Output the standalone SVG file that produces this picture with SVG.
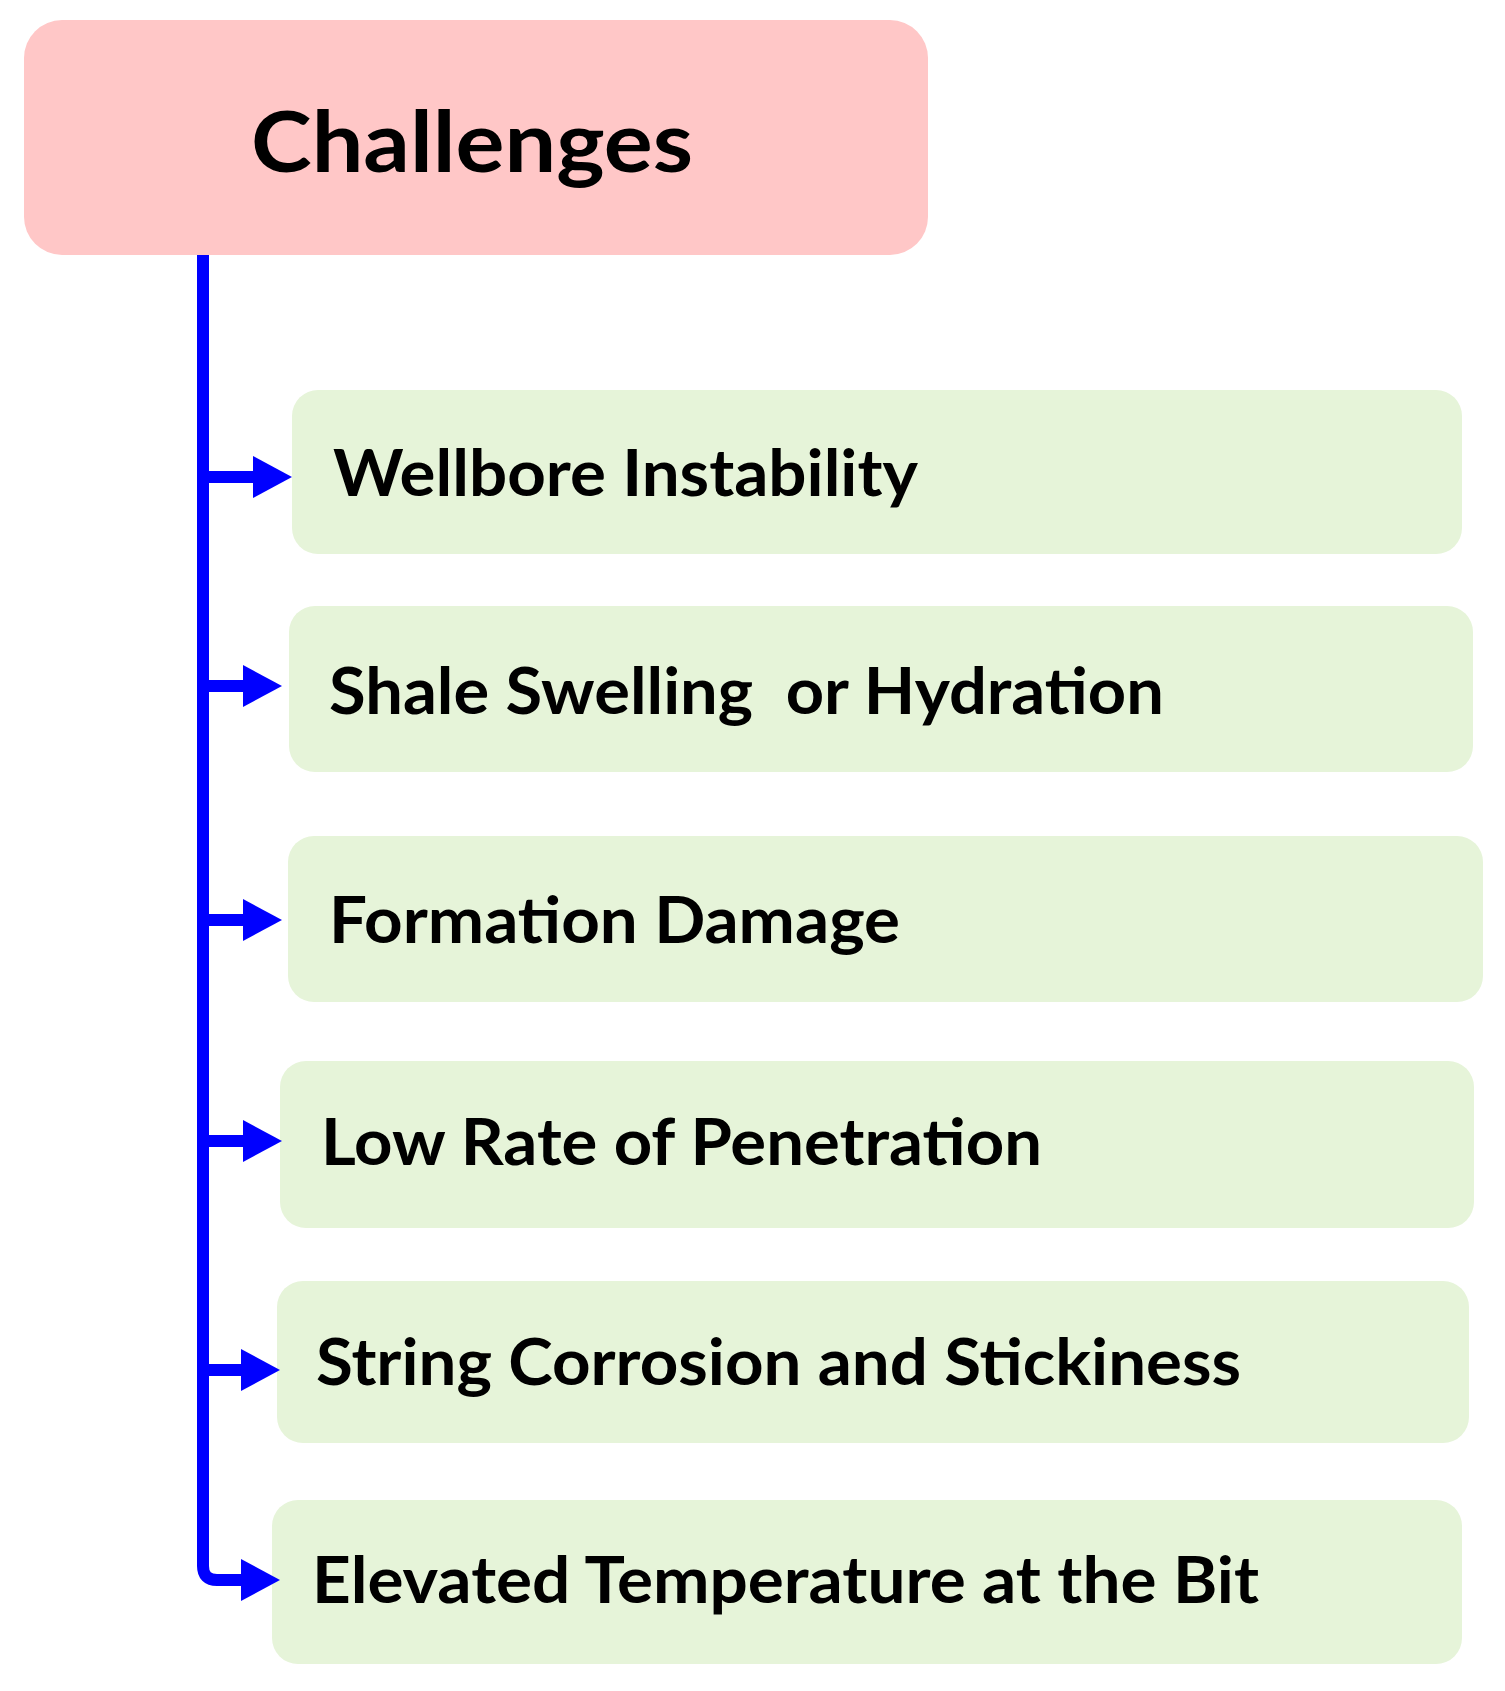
<svg xmlns="http://www.w3.org/2000/svg" width="1505" height="1691" viewBox="0 0 1505 1691">
<style>
.root{fill:#FFC7C7}
.item{fill:#E6F4D9}
.t{font-family:Lato,"Open Sans","Liberation Sans",sans-serif;font-weight:700;fill:#000;white-space:pre}
.conn{stroke:#0000FF;stroke-width:12;fill:none;stroke-linejoin:round}
.head{fill:#0000FF}
</style>
<rect width="1505" height="1691" fill="#FFFFFF"/>
<g id="node-challenges">
<rect class="root" x="24" y="20" width="904" height="235" rx="38"/>
<text class="t" x="251" y="172" font-size="84" textLength="442" lengthAdjust="spacingAndGlyphs">Challenges</text>
</g>
<g id="node-wellbore">
<rect class="item" x="292" y="390" width="1170" height="164" rx="26"/>
<text class="t" x="333" y="496" font-size="65" textLength="585" lengthAdjust="spacingAndGlyphs">Wellbore Instability</text>
</g>
<g id="node-shale">
<rect class="item" x="289" y="606" width="1184" height="166" rx="26"/>
<text class="t" x="329" y="714" font-size="65" textLength="835" lengthAdjust="spacingAndGlyphs">Shale Swelling  or Hydration</text>
</g>
<g id="node-formation">
<rect class="item" x="288" y="836" width="1195" height="166" rx="26"/>
<text class="t" x="329" y="943" font-size="65" textLength="571" lengthAdjust="spacingAndGlyphs">Formation Damage</text>
</g>
<g id="node-rop">
<rect class="item" x="280" y="1061" width="1194" height="167" rx="26"/>
<text class="t" x="321" y="1165" font-size="65" textLength="721" lengthAdjust="spacingAndGlyphs">Low Rate of Penetration</text>
</g>
<g id="node-string">
<rect class="item" x="277" y="1281" width="1192" height="162" rx="26"/>
<text class="t" x="316" y="1385" font-size="65" textLength="925" lengthAdjust="spacingAndGlyphs">String Corrosion and Stickiness</text>
</g>
<g id="node-temperature">
<rect class="item" x="272" y="1500" width="1190" height="164" rx="26"/>
<text class="t" x="312" y="1603" font-size="65" textLength="947" lengthAdjust="spacingAndGlyphs">Elevated Temperature at the Bit</text>
</g>
<g id="connectors">
<path class="conn" d="M203 255 V1566 Q203 1580 217 1580 H246"/>
<path class="conn" d="M203 477 H256"/>
<path class="conn" d="M203 686 H246"/>
<path class="conn" d="M203 920 H246"/>
<path class="conn" d="M203 1141 H246"/>
<path class="conn" d="M203 1370 H244"/>
<polygon class="head" points="253,456 292,477 253,498"/>
<polygon class="head" points="243,665 282,686 243,707"/>
<polygon class="head" points="243,899 282,920 243,941"/>
<polygon class="head" points="243,1120 282,1141 243,1162"/>
<polygon class="head" points="241,1349 280,1370 241,1391"/>
<polygon class="head" points="241,1559 280,1580 241,1601"/>
</g>
</svg>
